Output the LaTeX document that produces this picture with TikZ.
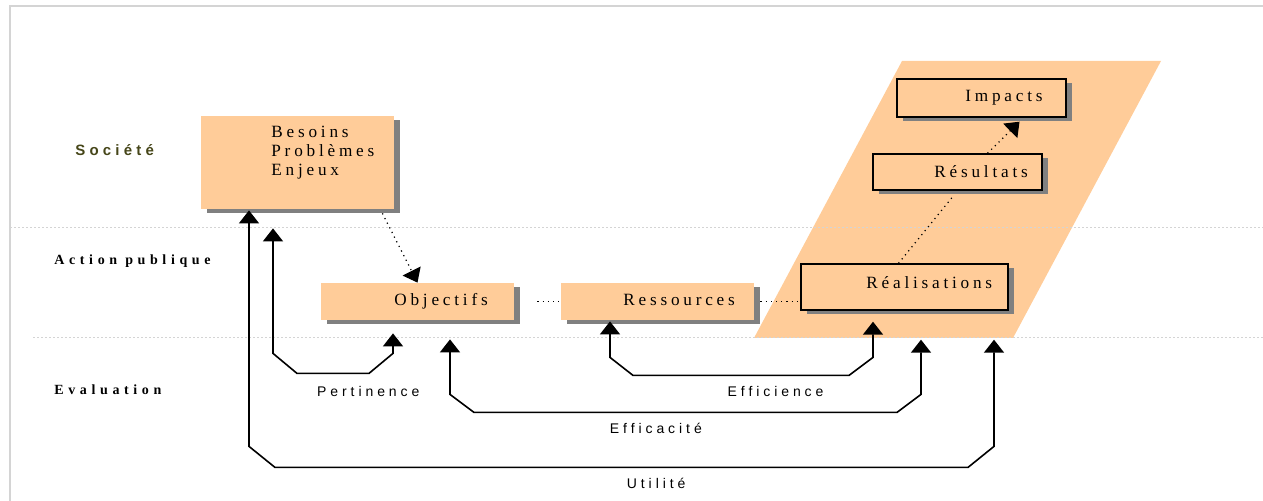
\documentclass[tikz,border=0pt]{standalone}
\usepackage{fontspec}
\setmainfont{Liberation Serif}
\newfontfamily\boxfont[LetterSpace=22]{Liberation Serif}
\newfontfamily\bandfont[LetterSpace=33]{Liberation Serif}
\newfontfamily\societefont[LetterSpace=28]{Liberation Sans}
\newfontfamily\evalfont[LetterSpace=28]{Liberation Sans}
\usetikzlibrary{arrows.meta,positioning,calc,shadows}
\definecolor{boxfill}{RGB}{255,204,153}
\definecolor{shadowgray}{RGB}{128,128,128}
\definecolor{framegray}{RGB}{212,212,212}
\definecolor{olivetext}{RGB}{70,70,25}

\begin{document}
\begin{tikzpicture}[x=0.5pt, y=-0.5pt,
    box/.style={rectangle, fill=boxfill, inner sep=0pt, drop shadow={shadow xshift=3pt, shadow yshift=-2.2pt, fill=shadowgray, opacity=1}},
    framed/.style={box, draw=black, line width=0.7pt},
    boxtext/.style={inner sep=0pt, anchor=west, yshift=-1.2pt, font=\boxfont\fontsize{8.6}{9.5}\selectfont},
    band/.style={inner sep=0pt, anchor=west, font=\bandfont\bfseries\fontsize{7}{8}\selectfont},
    societe/.style={inner sep=0pt, anchor=west, text=olivetext, font=\societefont\bfseries\fontsize{7.5}{8}\selectfont},
    evallabel/.style={inner sep=0pt, font=\evalfont\fontsize{7}{8}\selectfont},
    bandline/.style={framegray, dash pattern=on 1pt off 1pt, line width=0.5pt},
    link/.style={dotted, line width=0.6pt},
    arrowlink/.style={-{Triangle[width=10pt,length=6.5pt]}},
    evalarrow/.style={{Triangle[width=10pt,length=6.5pt]}-{Triangle[width=10pt,length=6.5pt]}, line width=0.8pt}
]
\useasboundingbox (0,0) rectangle (1263,501);

\draw[framegray, line width=1pt] (1263,6) -- (10,6) -- (10,501);
\fill[boxfill] (902,61) -- (1161,61) -- (1013,338) -- (754,338) -- cycle;
\draw[bandline] (10,228) -- (1263,228);
\draw[bandline] (33,338) -- (1263,338);

\node[societe] (societe) at (75,150) {Société};
\node[band] (action) at (54,261) {Action publique};
\node[band] (evaluation) at (54,390) {Evaluation};

\node[box, minimum width=96.5pt, minimum height=46.5pt] (besoins) at (297.5,162.5) {};
\node[boxtext, align=left] (besoinstxt) at (271,150) {Besoins\\Problèmes\\Enjeux};
\node[box, minimum width=96.5pt, minimum height=18.5pt] (objectifs) at (417.5,301.5) {};
\node[boxtext] (objtxt) at (394,299) {Objectifs};
\node[box, minimum width=96.5pt, minimum height=18.5pt] (ressources) at (657.5,301.5) {};
\node[boxtext] (restxt) at (623,298) {Ressources};
\node[framed, minimum width=103.5pt, minimum height=23pt] (realisations) at (904.5,287) {};
\node[boxtext] (realtxt) at (866,280) {Réalisations};
\node[framed, minimum width=84.5pt, minimum height=18pt] (resultats) at (957.5,172) {};
\node[boxtext] (resutxt) at (934,169) {Résultats};
\node[framed, minimum width=84.5pt, minimum height=19pt] (impacts) at (981.5,98) {};
\node[boxtext] (imptxt) at (965,95) {Impacts};

\draw[link, arrowlink] ([xshift=-6pt,yshift=-2pt]besoins.south east) -- (objectifs.north);
\draw[link] ([xshift=11.5pt]objectifs.east) -- (ressources.west);
\draw[link] ([xshift=3pt]ressources.east) -- (ressources.east -| realisations.west);
\draw[link] ([xshift=-3pt]realisations.north) -- ([xshift=-2pt,yshift=-2.5pt]resultats.south);
\draw[link, arrowlink] ([xshift=15pt]resultats.north) -- ([xshift=19pt,yshift=-2pt]impacts.south);

\draw[evalarrow] ([xshift=-12.25pt,yshift=-9.5pt]besoins.south) -- ++(0,125) -- ++(24,20) -- ++(72,0) node[evallabel, pos=0.99, below=6pt] (pertinence) {Pertinence} -- ++(24,-20) -- ([xshift=-12.25pt,yshift=-6.5pt]objectifs.south);
\draw[evalarrow] ([xshift=-23.75pt,yshift=-0.5pt]ressources.south) -- ++(0,36) -- ++(23,18) -- ++(216,0) node[evallabel, pos=0.66, below=5pt] (efficience) {Efficience} -- ++(24,-18) -- ([xshift=-15.75pt,yshift=-5.5pt]realisations.south);
\draw[evalarrow] ([xshift=16.25pt,yshift=-9.5pt]objectifs.south) -- ++(0,55) -- ++(24,18) -- ++(423,0) node[evallabel, pos=0.43, below=5pt] (efficacite) {Efficacité} -- ++(24,-18) -- ([xshift=8.25pt,yshift=-14.5pt]realisations.south);
\draw[evalarrow] ([xshift=-24.25pt,yshift=-0.5pt]besoins.south) -- ++(0,236) -- ++(26,21) -- ++(693,0) node[evallabel, pos=0.55, below=5pt] (utilite) {Utilité} -- ++(26,-21) -- ([xshift=44.75pt,yshift=-14.5pt]realisations.south);

\end{tikzpicture}
\end{document}
